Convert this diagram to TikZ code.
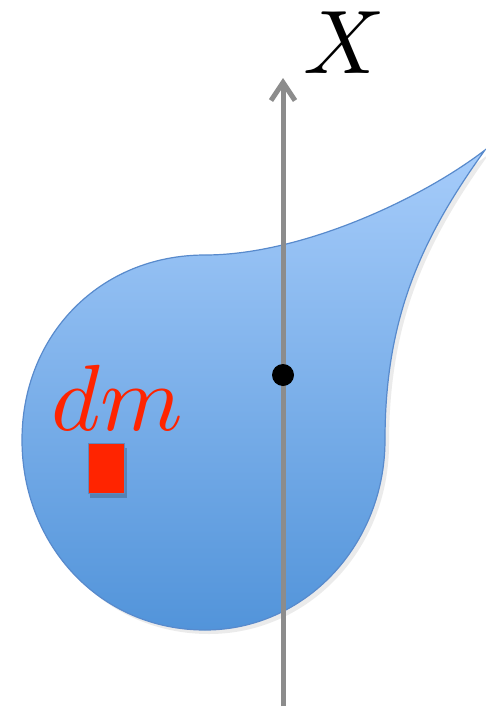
\documentclass[tikz,border=0pt]{standalone}
\usetikzlibrary{arrows.meta}
\definecolor{blobtop}{RGB}{166,204,250}
\definecolor{blobbot}{RGB}{82,148,218}
\definecolor{blobline}{RGB}{88,138,204}
\definecolor{axisgray}{RGB}{140,140,140}
\definecolor{dmred}{RGB}{255,36,0}
\tikzset{
  blob/.style={draw=blobline, line width=1.2pt, top color=blobtop, bottom color=blobbot},
  axis/.style={draw=axisgray, line width=5pt, -{Straight Barb[length=18pt,width=24pt,line width=5pt]}},
  pivot/.style={circle, fill=black, inner sep=0pt, minimum size=22pt},
  mass/.style={fill=dmred, draw=blobline!80!gray, line width=1pt, minimum width=36pt, minimum height=50pt, inner sep=0pt},
  biglabel/.style={scale=9.4, inner sep=0pt}
}
\begin{document}
\begin{tikzpicture}[x=1pt,y=-1pt]
\useasboundingbox (0,0) rectangle (485,712);
% faint shadow
\fill[black, opacity=0.08] (209,259) .. controls (304,259) and (424,204) .. (489,154)
  .. controls (424,244) and (389,324) .. (389,444)
  .. controls (389,549) and (309,634) .. (209,634)
  .. controls (104,634) and (26,549) .. (26,444)
  .. controls (26,339) and (104,259) .. (209,259) -- cycle;
\path[blob] (205,255) .. controls (300,255) and (420,200) .. (485,150)
  .. controls (420,240) and (385,320) .. (385,440)
  .. controls (385,545) and (305,630) .. (205,630)
  .. controls (100,630) and (22,545) .. (22,440)
  .. controls (22,335) and (100,255) .. (205,255) -- cycle;
\fill[black, opacity=0.2] (90,448) rectangle (127,498);
\node[mass] (dm) at (106,468) {};
\node[biglabel, text=dmred] (dmlabel) at (117,398) {$dm$};
\coordinate (axbot) at (283,706);
\coordinate (axtop) at (283,78);
\draw[axis] (axbot) -- (axtop);
\node[pivot] (o) at (283,375) {};
\node[biglabel, scale=0.96] (xlabel) at (344,43) {$X$};
\end{tikzpicture}
\end{document}
